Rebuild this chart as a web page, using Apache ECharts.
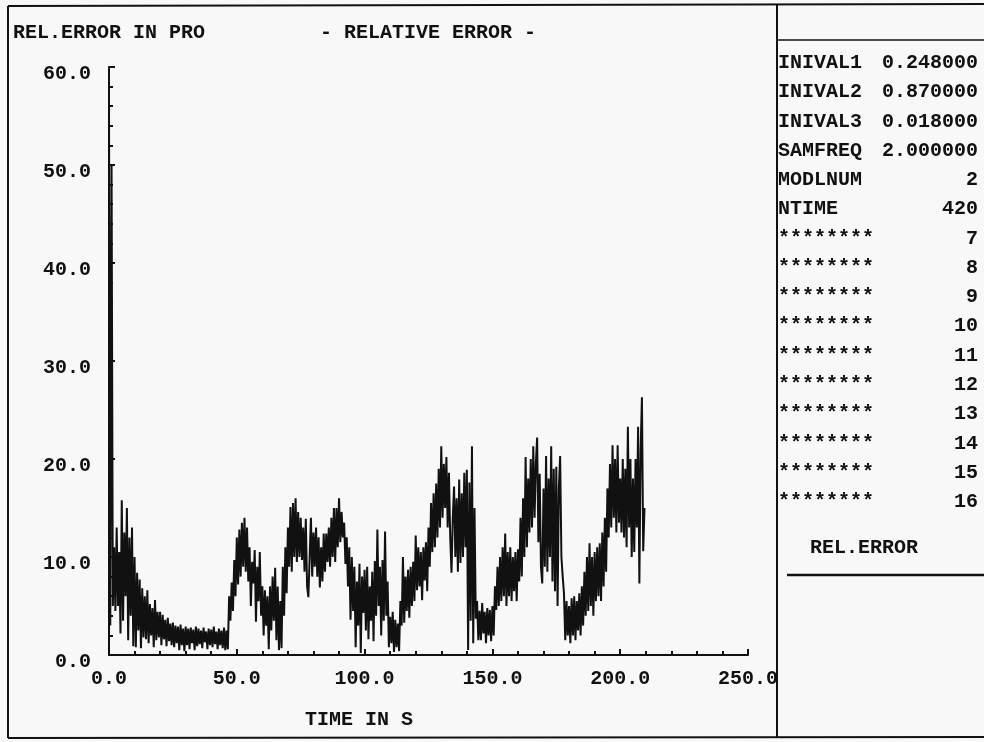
<!DOCTYPE html>
<html>
<head>
<meta charset="utf-8">
<title>REL.ERROR IN PRO</title>
<script src="https://cdn.jsdelivr.net/npm/echarts@6/dist/echarts.min.js"></script>
<style>
  html, body { margin: 0; padding: 0; background: #f8f8f8; }
  #chart { width: 984px; height: 742px; }
</style>
</head>
<body>
<div id="chart"></div>
<script>
// Relative error (percent) sampled at SAMFREQ, 420 samples (NTIME)
const sampleRate = 2.0;
const relError = [
  55.6, 3.0, 50.0, 5.0, 11.0, 4.5, 13.0, 5.0, 10.5, 2.2,
  15.8, 3.5, 12.5, 6.0, 15.0, 1.5, 12.0, 4.0, 13.0, 0.9,
  10.0, 0.8, 8.4, 2.5, 7.7, 0.7, 6.8, 1.8, 6.0, 1.6,
  6.6, 1.2, 5.2, 2.0, 4.8, 0.8, 5.6, 1.5, 4.4, 1.8,
  4.4, 1.0, 4.1, 1.6, 3.6, 0.9, 3.8, 1.4, 3.2, 1.0,
  3.3, 0.8, 3.0, 1.2, 2.9, 0.5, 3.1, 1.0, 2.7, 0.4,
  2.9, 1.0, 2.7, 0.6, 2.8, 1.2, 2.6, 0.5, 2.9, 0.9,
  2.7, 1.1, 2.5, 0.7, 2.8, 1.3, 2.4, 0.6, 2.7, 1.0,
  2.6, 0.8, 2.9, 1.1, 2.4, 0.6, 2.7, 1.0, 2.5, 0.7,
  2.8, 0.5, 2.5, 0.6, 6.0, 3.5, 7.4, 4.5, 9.7, 6.0,
  12.0, 7.2, 12.8, 8.0, 13.5, 9.0, 14.0, 8.5, 13.0, 7.5,
  11.0, 5.0, 9.5, 7.3, 10.7, 3.4, 9.0, 5.5, 10.5, 4.0,
  7.0, 2.0, 6.6, 3.0, 6.0, 0.6, 7.0, 2.5, 8.0, 3.5,
  8.9, 1.5, 7.0, 0.5, 5.5, 0.7, 9.0, 4.0, 11.0, 6.3,
  13.0, 9.0, 15.1, 8.5, 15.5, 10.0, 16.0, 9.5, 14.6, 10.0,
  14.0, 9.7, 13.0, 8.5, 13.9, 7.0, 5.9, 10.0, 14.0, 8.0,
  12.5, 9.0, 13.0, 8.0, 12.0, 6.9, 11.0, 7.5, 12.4, 8.5,
  12.4, 9.5, 13.0, 9.0, 14.0, 10.0, 15.0, 9.5, 15.0, 11.0,
  16.0, 11.5, 14.6, 12.0, 13.5, 9.3, 12.0, 7.0, 11.0, 3.6,
  10.0, 4.5, 9.0, 0.8, 7.5, 3.0, 9.3, 0.2, 8.0, 4.3,
  8.7, 2.5, 9.0, 1.6, 7.0, 3.5, 8.5, 1.4, 9.6, 4.0,
  12.8, 5.0, 9.0, 2.0, 9.7, 3.5, 12.6, 4.0, 7.5, 0.8,
  3.9, 1.2, 4.4, 0.3, 3.6, 0.8, 3.2, 0.4, 5.5, 3.0,
  10.0, 3.3, 8.0, 4.5, 8.7, 3.8, 9.0, 5.0, 9.5, 5.5,
  12.2, 6.6, 11.0, 7.0, 10.5, 5.6, 11.0, 7.6, 11.5, 6.5,
  13.0, 9.0, 15.5, 10.5, 16.5, 11.0, 17.5, 12.0, 19.0, 13.0,
  21.3, 14.0, 19.5, 15.0, 20.2, 13.0, 18.6, 12.0, 8.4, 14.0,
  17.2, 10.0, 16.0, 8.5, 17.9, 9.4, 16.5, 10.0, 18.6, 11.0,
  18.9, 0.5, 17.6, 3.5, 21.3, 1.2, 15.0, 3.7, 5.5, 1.5,
  4.5, 1.5, 5.3, 2.2, 4.4, 1.2, 4.8, 2.0, 4.6, 1.4,
  5.0, 2.0, 7.0, 4.6, 9.0, 5.0, 10.0, 5.5, 11.0, 6.0,
  12.4, 5.0, 10.5, 6.0, 11.0, 5.5, 10.0, 6.5, 10.5, 5.5,
  10.8, 7.5, 14.0, 8.0, 16.0, 10.0, 20.2, 11.0, 18.0, 12.5,
  20.0, 13.0, 21.3, 14.0, 19.5, 22.2, 11.5, 18.5, 9.0, 7.3,
  17.0, 9.0, 20.3, 8.5, 18.0, 10.0, 21.3, 7.5, 19.0, 6.5,
  19.2, 5.0, 17.0, 20.3, 10.0, 8.0, 6.3, 1.5, 5.5, 2.0,
  5.0, 1.2, 5.8, 2.0, 6.0, 1.5, 5.5, 2.5, 6.3, 2.0,
  7.0, 3.0, 8.5, 4.0, 10.0, 4.5, 11.4, 5.0, 10.0, 4.0,
  10.5, 5.5, 11.0, 6.0, 11.4, 5.5, 12.5, 7.0, 14.0, 8.5,
  17.0, 12.0, 19.5, 13.0, 21.4, 14.0, 20.0, 12.5, 21.4, 13.5,
  18.0, 12.5, 20.0, 12.0, 19.0, 11.0, 23.3, 13.0, 20.0, 10.0,
  18.0, 10.5, 20.0, 13.0, 23.3, 7.3, 21.0, 26.3, 10.6, 15.0
];

// Axis ranges and tick steps
const xRange = [0, 250];
const xStep = 50;
const yRange = [0, 60];
const yStep = 10;

// Texts of the page
const plotTitle = 'REL.ERROR IN PRO';
const chartTitle = '- RELATIVE ERROR -';
const xAxisName = 'TIME IN S';
const legendName = 'REL.ERROR';

// Parameter table in the side panel
const paramNames = ['INIVAL1', 'INIVAL2', 'INIVAL3', 'SAMFREQ', 'MODLNUM', 'NTIME',
  '********', '********', '********', '********', '********',
  '********', '********', '********', '********', '********'];
const paramValues = ['0.248000', '0.870000', '0.018000', '2.000000', '2', '420',
  '7', '8', '9', '10', '11', '12', '13', '14', '15', '16'];

const seriesData = relError.map((v, i) => [i / sampleRate, v]);

const FONT = "'Liberation Mono', 'DejaVu Sans Mono', monospace";
const INK = '#111111';

function txt(x, y, s, extra) {
  return {
    type: 'text', x: x, y: y, silent: true,
    style: Object.assign({
      text: s, fill: INK, font: 'bold 20px ' + FONT,
      textVerticalAlign: 'middle', textAlign: 'left'
    }, extra || {})
  };
}
function seg(x1, y1, x2, y2, w) {
  return {
    type: 'line', silent: true,
    shape: { x1: x1, y1: y1, x2: x2, y2: y2 },
    style: { stroke: INK, lineWidth: w || 2 }
  };
}

const graphics = [
  // frame and panel rules
  seg(8, 6, 984, 4),
  seg(8, 6, 8, 738),
  seg(8, 738, 984, 737),
  seg(777, 5, 777, 738),
  seg(777, 40, 984, 40, 1.5),
  seg(787, 575, 984, 575, 2.5),
  // headings
  txt(13, 33, plotTitle),
  txt(320, 33, chartTitle),
  txt(305, 720, xAxisName),
  txt(810, 548, legendName)
];
// parameter rows: name left, value right
paramNames.forEach((name, i) => {
  const y = 63 + i * 29.27;
  graphics.push(txt(778, y, name));
  graphics.push(txt(978, y, paramValues[i], { textAlign: 'right' }));
});

const chart = echarts.init(document.getElementById('chart'), null, { renderer: 'canvas' });
chart.setOption({
  backgroundColor: '#f8f8f8',
  animation: false,
  grid: { left: 109, right: 236, top: 67, bottom: 87, containLabel: false },
  xAxis: {
    type: 'value',
    min: xRange[0], max: xRange[1], interval: xStep,
    axisLine: { show: true, lineStyle: { color: INK, width: 2 } },
    axisTick: { show: true, inside: true, length: 6, lineStyle: { color: INK, width: 2 } },
    minorTick: { show: true, splitNumber: 5, length: 4, lineStyle: { color: INK, width: 2 } },
    splitLine: { show: false },
    axisLabel: {
      show: true, margin: 14, color: INK, fontFamily: FONT, fontWeight: 'bold', fontSize: 20,
      lineHeight: 20, showMinLabel: true, showMaxLabel: true,
      formatter: v => v.toFixed(1)
    }
  },
  yAxis: {
    type: 'value',
    min: yRange[0], max: yRange[1], interval: yStep,
    axisLine: { show: true, lineStyle: { color: INK, width: 2 } },
    axisTick: { show: true, inside: true, length: 6, lineStyle: { color: INK, width: 2 } },
    minorTick: { show: true, splitNumber: 5, length: 4, lineStyle: { color: INK, width: 2 } },
    splitLine: { show: false },
    axisLabel: {
      show: true, margin: 18, color: INK, fontFamily: FONT, fontWeight: 'bold', fontSize: 20,
      lineHeight: 14, verticalAlign: 'top', showMinLabel: true, showMaxLabel: true,
      formatter: v => v.toFixed(1)
    }
  },
  series: [{
    type: 'line',
    data: seriesData,
    showSymbol: false,
    symbol: 'none',
    clip: true,
    lineStyle: { color: INK, width: 2 },
    z: 3
  }],
  graphic: graphics
});
</script>
</body>
</html>
